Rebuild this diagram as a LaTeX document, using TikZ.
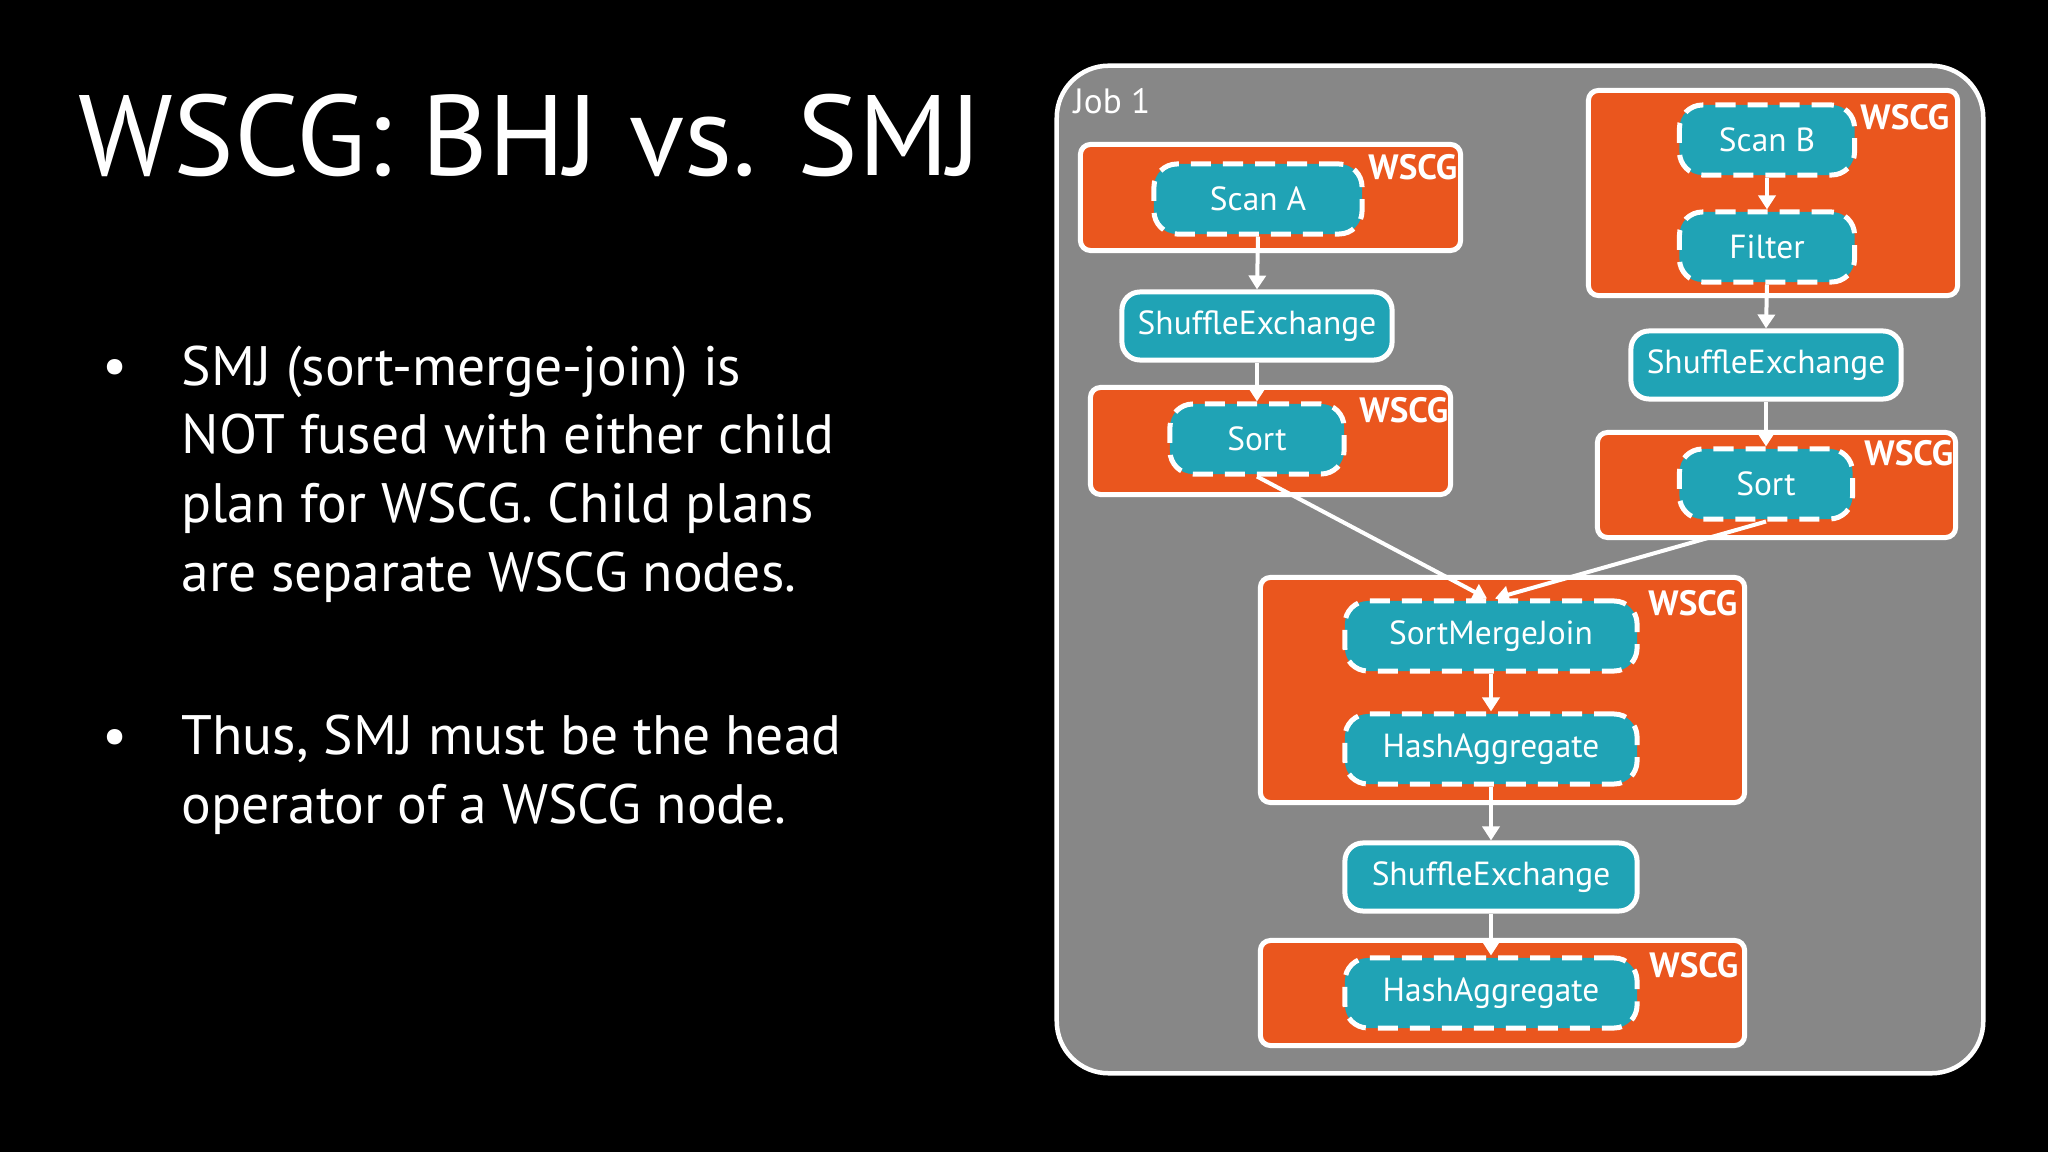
\documentclass[tikz,border=0pt]{standalone}
\usepackage{fontspec}
\setmainfont{PT Sans}
\usetikzlibrary{arrows.meta}
\definecolor{sparkorange}{HTML}{EA561E}
\definecolor{sparkteal}{HTML}{20A3B5}
\definecolor{jobgray}{HTML}{878787}
\tikzset{
  wscgbox/.style={draw=white, fill=sparkorange, line width=0.05cm, rounded corners=0.1cm, inner sep=0pt},
  fusedop/.style={draw=white, fill=sparkteal, line width=0.05cm, rounded corners=0.23cm,
    dash pattern=on 0.2cm off 0.12cm, text=white, font=\fontsize{9.5}{11}\selectfont,
    minimum height=0.7cm, inner sep=0pt},
  exchop/.style={draw=white, fill=sparkteal, line width=0.05cm, rounded corners=0.18cm,
    text=white, font=\fontsize{9.5}{11}\selectfont, minimum height=0.68cm, minimum width=2.7cm, inner sep=0pt},
  wscglabel/.style={text=white, font=\bfseries\fontsize{10}{12}\selectfont, inner sep=0pt, anchor=east},
  flow/.style={draw=white, line width=0.04cm, -{Triangle[width=0.17cm,length=0.14cm]}},
  bullettext/.style={text=white, font=\fontsize{15.8}{19.5}\selectfont, anchor=base west, inner sep=0pt, align=left}
}
\begin{document}
\begin{tikzpicture}[x={(0.01cm,0)}, y={(0,-0.01cm)}]
\fill[black] (0,0) rectangle (2048,1152);
\useasboundingbox (0,0) rectangle (2048,1152);

% title and bullets
\node[text=white, font=\fontsize{32.5}{38}\selectfont, anchor=base west, inner sep=0pt] (title) at (78,176) {WSCG: BHJ vs. SMJ};
\node[bullettext] (b1dot) at (102,385) {•};
\node[bullettext] (b1) at (181,591) {SMJ (sort-merge-join) is\\NOT fused with either child\\plan for WSCG. Child plans\\are separate WSCG nodes.};
\node[bullettext] (b2dot) at (102,754) {•};
\node[bullettext] (b2) at (181,823) {Thus, SMJ must be the head\\operator of a WSCG node.};

% job box
\node[draw=white, fill=jobgray, line width=0.045cm, rounded corners=0.52cm, minimum width=9.26cm, minimum height=10.07cm, inner sep=0pt] (job) at (1520,569.5) {};
\node[text=white, font=\fontsize{10}{12}\selectfont, anchor=base west, inner sep=0pt] (joblabel) at (1073,114) {Job 1};

% WSCG boxes
\node[wscgbox, minimum width=3.8cm, minimum height=1.06cm] (w1) at (1270.5,197.5) {};
\node[wscgbox, minimum width=3.6cm, minimum height=1.07cm] (w2) at (1270.5,441) {};
\node[wscgbox, minimum width=3.69cm, minimum height=2.05cm] (w3) at (1773,193) {};
\node[wscgbox, minimum width=3.58cm, minimum height=1.05cm] (w4) at (1776.5,485) {};
\node[wscgbox, minimum width=4.84cm, minimum height=2.25cm] (w5) at (1502.5,690) {};
\node[wscgbox, minimum width=4.84cm, minimum height=1.05cm] (w6) at (1502.5,993) {};

\node[wscglabel] (l1) at (1458,167) {WSCG};
\node[wscglabel] (l2) at (1449,410) {WSCG};
\node[wscglabel] (l3) at (1950,117) {WSCG};
\node[wscglabel] (l4) at (1954,453) {WSCG};
\node[wscglabel] (l5) at (1738,603) {WSCG};
\node[wscglabel] (l6) at (1739,965) {WSCG};

% operators
\node[fusedop, minimum width=2.08cm] (scanA) at (1258,199) {Scan A};
\node[exchop] (shA) at (1257,326) {ShuffleExchange};
\node[fusedop, minimum width=1.74cm] (sortA) at (1257,439) {Sort};
\node[fusedop, minimum width=1.75cm] (scanB) at (1767,140) {Scan B};
\node[fusedop, minimum width=1.75cm] (filter) at (1767,247) {Filter};
\node[exchop] (shB) at (1766,365) {ShuffleExchange};
\node[fusedop, minimum width=1.73cm] (sortB) at (1766,484) {Sort};
\node[fusedop, minimum width=2.92cm] (smj) at (1491,636) {SortMergeJoin};
\node[fusedop, minimum width=2.92cm] (ha1) at (1491,749) {HashAggregate};
\node[exchop, minimum width=2.92cm] (shC) at (1491,877) {ShuffleExchange};
\node[fusedop, minimum width=2.92cm] (ha2) at (1491,993) {HashAggregate};

% connectors
\draw[flow] (scanA.south) -- (shA.north);
\draw[flow] (shA.south) -- (sortA.north);
\draw[flow] (scanB.south) -- (filter.north);
\draw[flow] (filter.south) -- (shB.north);
\draw[flow] (shB.south) -- (sortB.north);
\draw[flow] (sortA.south) -- ([xshift=-0.04cm]smj.north);
\draw[flow] (sortB.south) -- ([xshift=0.04cm]smj.north);
\draw[flow] (smj.south) -- (ha1.north);
\draw[flow] (ha1.south) -- (shC.north);
\draw[flow] (shC.south) -- (ha2.north);
\end{tikzpicture}
\end{document}
